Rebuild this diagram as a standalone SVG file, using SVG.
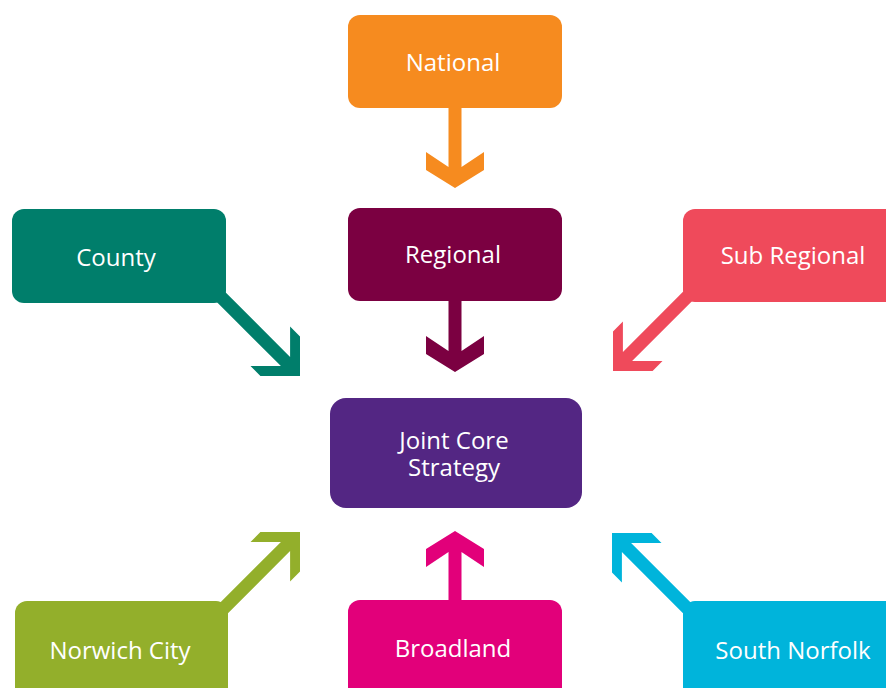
<svg xmlns="http://www.w3.org/2000/svg" width="886" height="688" viewBox="0 0 886 688">
<defs>
<style>
.lbl{font-family:"Open Sans","Liberation Sans",sans-serif;font-size:24px;fill:#fff;text-anchor:middle}
</style>
</defs>
<rect width="886" height="688" fill="#fff"/>
<g id="connectors">
<path fill="#F68B1F" d="M448.5,100 L461.5,100 L461.5,167 L484,152 L484,170 L455,188 L426,170 L426,152 L448.5,167 Z"/>
<path fill="#7B0041" d="M448.5,295 L461.5,295 L461.5,351 L484,336 L484,354 L455,372 L426,354 L426,336 L448.5,351 Z"/>
<path fill="#E2007A" d="M448.5,605 L461.5,605 L461.5,552 L484,567 L484,549 L455,531 L426,549 L426,567 L448.5,552 Z"/>
<g transform="translate(300,376) rotate(45)"><path fill="#007E6B" d="M-125,-6.5 L-20.5,-6.5 L-42,-28 L-28,-28 L0,0 L-28,28 L-42,28 L-20.5,6.5 L-125,6.5 Z"/></g>
<g transform="translate(613,371) rotate(135)"><path fill="#EF4A5B" d="M-120,-6.5 L-20.5,-6.5 L-42,-28 L-28,-28 L0,0 L-28,28 L-42,28 L-20.5,6.5 L-120,6.5 Z"/></g>
<g transform="translate(300,532) rotate(-45)"><path fill="#93AF2B" d="M-125,-6.5 L-20.5,-6.5 L-42,-28 L-28,-28 L0,0 L-28,28 L-42,28 L-20.5,6.5 L-125,6.5 Z"/></g>
<g transform="translate(612,533) rotate(-135)"><path fill="#00B4DB" d="M-120,-6.5 L-20.5,-6.5 L-42,-28 L-28,-28 L0,0 L-28,28 L-42,28 L-20.5,6.5 L-120,6.5 Z"/></g>
</g>
<g id="national"><rect x="348" y="15" width="214" height="93" rx="12" fill="#F68B1F"/><text class="lbl" x="453" y="71">National</text></g>
<g id="regional"><rect x="348" y="208" width="214" height="93" rx="12" fill="#7B0041"/><text class="lbl" x="453" y="263">Regional</text></g>
<g id="county"><rect x="12" y="209" width="214" height="94" rx="12" fill="#007E6B"/><text class="lbl" x="116" y="266">County</text></g>
<g id="subregional"><rect x="683" y="209" width="215" height="93" rx="12" fill="#EF4A5B"/><text class="lbl" x="793" y="264">Sub Regional</text></g>
<g id="jcs"><rect x="330" y="398" width="252" height="110" rx="16" fill="#532683"/><text class="lbl" x="454" y="449">Joint Core</text><text class="lbl" x="454" y="476">Strategy</text></g>
<g id="norwich"><rect x="15" y="601" width="213" height="100" rx="12" fill="#93AF2B"/><text class="lbl" x="120" y="659">Norwich City</text></g>
<g id="broadland"><rect x="348" y="600" width="214" height="100" rx="12" fill="#E2007A"/><text class="lbl" x="453" y="657">Broadland</text></g>
<g id="southnorfolk"><rect x="683" y="601" width="215" height="100" rx="12" fill="#00B4DB"/><text class="lbl" x="793" y="659">South Norfolk</text></g>
</svg>
